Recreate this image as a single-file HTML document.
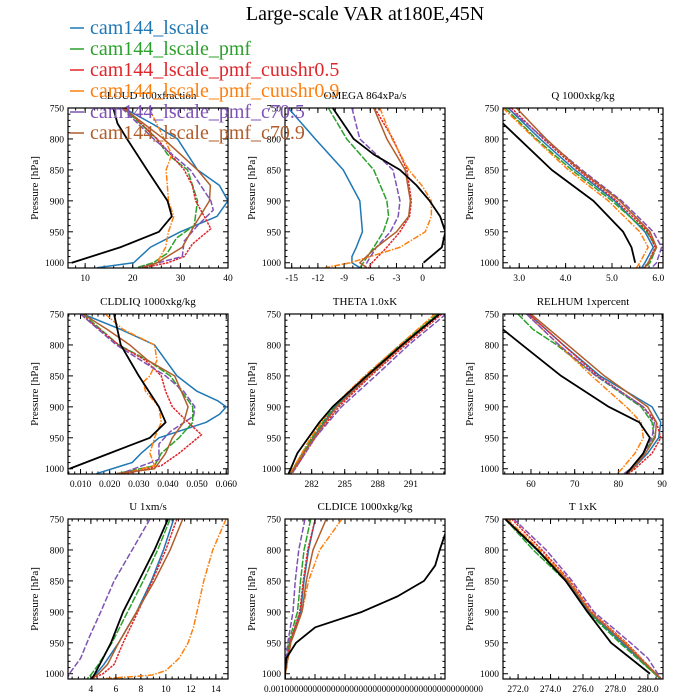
<!DOCTYPE html>
<html><head><meta charset="utf-8">
<style>
html,body{margin:0;padding:0;background:#fff;}
svg{display:block;font-family:"Liberation Serif",serif;}
</style></head>
<body>
<svg id="chart" width="700" height="700" viewBox="0 0 700 700" xmlns="http://www.w3.org/2000/svg"></svg>
<script>
// ---------- data: [pressure hPa, value] ----------
const seriesNames = ["cam144_lscale","cam144_lscale_pmf","cam144_lscale_pmf_cuushr0.5","cam144_lscale_pmf_cuushr0.9","cam144_lscale_pmf_c70.5","cam144_lscale_pmf_c70.9"];
// CLOUD
const cloudBlack=[[750,15.9],[775,16.8],[800,18.8],[850,23],[900,27.3],[925,28.2],[950,25.5],[975,17.4],[1000,7.2]];
const cloudBlue=[[750,18.1],[775,24],[800,29.4],[850,33.6],[875,38.2],[900,40],[925,37.7],[950,30],[975,23.7],[1000,20.2],[1008,12.5]];
const cloudGreen=[[750,18],[800,25.1],[825,27.3],[850,31.5],[900,33.6],[940,32.9],[960,29.2],[985,27.2],[1000,24.3],[1008,20.8]];
const cloudRed=[[750,18.4],[800,25.1],[850,30.8],[875,32.5],[900,33.2],[925,35],[945,36.4],[970,32.5],[990,30.8],[1000,27.4],[1008,22.2]];
const cloudOrange=[[750,23.4],[800,26.6],[825,28.2],[850,27],[900,27.5],[925,28.6],[950,27.5],[975,26.9],[1000,25.1],[1008,22]];
const cloudPurple=[[750,17.7],[800,24.4],[850,32.1],[900,36.4],[915,36.9],[940,33.6],[965,30.8],[990,30.4],[1008,21.4]];
const cloudBrown=[[750,18],[800,26.5],[850,33.6],[875,36.3],[900,36.1],[940,32.9],[975,30.4],[1000,25.1],[1008,22]];
// OMEGA
const omegaBlack=[[750,-10.3],[800,-7.9],[825,-5.6],[850,-2.6],[875,-0.7],[900,0.8],[925,2.0],[950,2.6],[975,2.2],[1000,0.1]];
const omegaBlue=[[750,-15.4],[800,-12.3],[850,-9.1],[900,-7.2],[950,-6.9],[975,-7.6],[990,-8.1],[1000,-8.1],[1008,-7.2]];
const omegaGreen=[[750,-10.8],[800,-8.7],[850,-5.6],[900,-4.1],[925,-3.9],[950,-4.5],[975,-5.6],[1000,-6.8],[1008,-7.2]];
const omegaRed=[[750,-5.5],[800,-3.4],[850,-1.8],[900,-1.3],[925,-1.5],[950,-2.6],[975,-4.1],[1000,-5.8],[1008,-6.2]];
const omegaOrange=[[750,-4.9],[800,-3.5],[850,-1.6],[875,-0.1],[900,1.0],[925,1.0],[950,0.3],[975,-2.6],[1000,-8.3],[1008,-11.2]];
const omegaPurple=[[750,-8.1],[800,-7.2],[850,-3.4],[900,-2.6],[925,-2.8],[950,-3.7],[975,-5.3],[1000,-6.4],[1008,-6.6]];
const omegaBrown=[[750,-5.6],[800,-4.1],[850,-2.0],[900,-1.4],[925,-1.6],[950,-3.0],[975,-5.3],[1000,-7.2],[1008,-6.4]];
// Q
const qBlack=[[775,2.65],[800,3.0],[850,3.7],[900,4.6],[950,5.24],[975,5.42],[1000,5.5]];
const qBlue=[[750,2.76],[800,3.45],[850,4.2],[900,5.06],[950,5.71],[975,5.89],[1000,5.71],[1008,5.64]];
const qGreen=[[750,2.7],[800,3.37],[850,4.13],[900,5.0],[950,5.75],[975,5.96],[1000,5.82],[1008,5.71]];
const qRed=[[750,2.83],[800,3.52],[850,4.27],[900,5.1],[950,5.78],[975,5.93],[1000,5.78],[1008,5.68]];
const qOrange=[[750,2.65],[800,3.34],[850,4.06],[900,4.92],[950,5.6],[975,5.78],[1000,5.6],[1008,5.53]];
const qPurple=[[750,2.76],[800,3.55],[850,4.35],[900,5.21],[950,5.89],[975,6.07],[1000,5.96],[1008,5.86]];
const qBrown=[[750,2.94],[800,3.58],[850,4.31],[900,5.17],[950,5.82],[975,5.96],[1000,5.78],[1008,5.71]];
// CLDLIQ
const liqBlack=[[750,0.0215],[800,0.0238],[850,0.030],[900,0.0369],[925,0.0392],[950,0.0338],[975,0.020],[1000,0.0062]];
const liqBlue=[[750,0.0108],[775,0.0238],[800,0.0354],[850,0.0431],[875,0.050],[890,0.057],[900,0.060],[912,0.0577],[925,0.0531],[950,0.0369],[975,0.0308],[990,0.0277],[1008,0.0154]];
const liqGreen=[[750,0.0108],[800,0.0231],[825,0.0331],[850,0.0408],[900,0.0485],[925,0.0485],[950,0.0438],[975,0.0377],[995,0.0354],[1008,0.0223]];
const liqRed=[[750,0.010],[800,0.0231],[825,0.0323],[850,0.0377],[875,0.0392],[900,0.0415],[925,0.0469],[945,0.0515],[975,0.0438],[995,0.0377],[1008,0.0254]];
const liqOrange=[[750,0.0185],[775,0.0246],[800,0.0354],[825,0.0362],[850,0.0338],[860,0.0315],[875,0.0323],[900,0.0369],[925,0.0377],[950,0.0354],[975,0.0338],[995,0.0354],[1008,0.0246]];
const liqPurple=[[750,0.010],[800,0.0223],[850,0.0392],[875,0.0454],[900,0.0492],[915,0.0488],[940,0.0408],[960,0.0369],[985,0.0369],[1008,0.0238]];
const liqBrown=[[750,0.0108],[775,0.0192],[800,0.0269],[825,0.0331],[850,0.0423],[900,0.0469],[925,0.0454],[950,0.0415],[975,0.0392],[1000,0.0354],[1008,0.0223]];
// THETA
const thBlack=[[750,293.6],[800,290.2],[850,287.0],[900,283.9],[925,282.7],[950,281.7],[975,280.7],[1000,280.1],[1008,279.9]];
const thBlue=[[750,293.53],[800,290.19],[850,287.04],[900,284.14],[950,282.12],[1000,280.39],[1008,280.1]];
const thGreen=[[750,293.4],[800,290.0],[850,286.9],[900,284.0],[950,282.0],[1000,280.3],[1008,280.0]];
const thRed=[[750,293.81],[800,290.51],[850,287.36],[900,284.46],[950,282.32],[1000,280.51],[1008,280.2]];
const thOrange=[[750,293.2],[800,290.0],[850,286.8],[900,283.9],[950,281.9],[1000,280.3],[1008,280.0]];
const thPurple=[[750,294.2],[800,290.8],[850,287.8],[900,284.7],[950,282.3],[1000,280.5],[1008,280.2]];
const thBrown=[[750,293.61],[800,290.31],[850,287.2],[900,284.26],[950,282.2],[1000,280.39],[1008,280.1]];
// RELHUM
const rhBlack=[[775,53.6],[800,58.0],[850,66.9],[900,77.8],[925,84.8],[950,87.2],[975,85.7],[1000,82.8],[1008,81.8]];
const rhBlue=[[750,59.5],[800,67.4],[850,75.8],[900,87.7],[925,89.7],[950,89.2],[975,86.7],[1000,83.3],[1008,81.8]];
const rhGreen=[[750,57.0],[775,60.5],[800,65.9],[850,74.9],[900,85.2],[925,87.7],[950,88.2],[975,85.7],[1000,82.8],[1008,81.3]];
const rhRed=[[750,59.5],[800,67.4],[850,75.3],[900,85.7],[925,88.7],[950,89.7],[975,87.7],[1000,83.8],[1008,82.3]];
const rhOrange=[[750,59.0],[800,66.4],[850,73.9],[900,81.8],[925,85.2],[950,85.7],[975,83.8],[1000,80.8],[1008,79.8]];
const rhPurple=[[750,59.0],[800,66.4],[850,74.9],[900,85.7],[925,88.2],[950,87.7],[975,85.7],[1000,82.8],[1008,81.3]];
const rhBrown=[[750,60],[800,68.4],[850,76.8],[900,86.7],[925,88.7],[950,88.4],[975,86.2],[1000,83.3],[1008,81.8]];
// U
const uBlack=[[750,10.17],[800,9.09],[850,7.84],[900,6.58],[950,5.61],[975,4.97],[1000,4.32],[1008,4.07]];
const uBlue=[[750,10.63],[800,9.81],[850,8.84],[900,7.66],[950,6.22],[985,5.04],[1000,4.43],[1008,4.07]];
const uGreen=[[750,10.34],[800,9.34],[850,8.19],[900,6.94],[950,5.68],[985,4.61],[1000,4.07],[1008,3.71]];
const uRed=[[750,10.88],[800,9.99],[850,8.91],[900,7.76],[950,6.58],[985,5.86],[1000,4.97],[1008,4.07]];
const uOrange=[[750,14.82],[800,13.75],[850,13.03],[900,12.49],[925,12.21],[950,11.78],[975,11.06],[995,9.99],[1002,8.91],[1005,7.12],[1008,4.97]];
const uPurple=[[750,8.73],[800,7.30],[850,5.86],[900,4.79],[940,3.89],[975,3.18],[985,2.82],[1000,2.28],[1008,2.1]];
const uBrown=[[750,11.35],[800,10.34],[850,9.09],[900,7.66],[950,6.22],[985,5.33],[1000,4.61],[1008,4.07]];
// CLDICE (relative units)
const iceBlack=[[775,1.0],[800,0.967],[825,0.939],[850,0.869],[875,0.703],[900,0.481],[925,0.189],[950,0.069],[975,0.008],[1000,0],[1008,0]];
const iceBlue=[[750,0.189],[800,0.147],[850,0.119],[900,0.097],[950,0.031],[1000,0],[1008,0]];
const iceGreen=[[750,0.161],[800,0.119],[850,0.097],[900,0.078],[950,0.022],[1000,0],[1008,0]];
const iceRed=[[750,0.189],[800,0.142],[850,0.114],[900,0.092],[950,0.031],[1000,0],[1008,0]];
const iceOrange=[[750,0.356],[800,0.217],[850,0.147],[900,0.106],[950,0.036],[1000,0.003],[1008,0]];
const icePurple=[[750,0.125],[800,0.086],[850,0.064],[900,0.05],[950,0.017],[1000,0],[1008,0]];
const iceBrown=[[750,0.258],[800,0.175],[850,0.133],[900,0.106],[950,0.036],[1000,0],[1008,0]];
// T
const tBlack=[[750,271.2],[800,273.2],[850,274.93],[900,276.27],[950,277.73],[975,278.93],[1000,280.13]];
const tBlue=[[750,271.2],[800,273.15],[850,274.99],[900,276.35],[950,278.4],[1008,280.75]];
const tGreen=[[750,271.2],[800,272.93],[850,274.93],[900,276.27],[950,278.27],[1008,280.75]];
const tRed=[[750,271.6],[800,273.47],[850,275.2],[900,276.53],[950,278.67],[1008,280.8]];
const tOrange=[[750,271.33],[800,273.33],[850,275.15],[900,276.48],[950,278.61],[1008,280.8]];
const tPurple=[[750,271.73],[800,273.73],[850,275.33],[900,276.67],[950,278.93],[975,280.0],[1008,280.8]];
const tBrown=[[750,271.25],[800,273.2],[850,275.07],[900,276.43],[950,278.53],[1008,280.8]];

const cloudTicks=[10,20,30,40];
const omegaTicks=[-15,-12,-9,-6,-3,0];
const qTicks=["3.0","4.0","5.0","6.0"];
const liqTicks=["0.010","0.020","0.030","0.040","0.050","0.060"];
const thTicks=[282,285,288,291];
const rhTicks=[60,70,80,90];
const uTicks=[4,6,8,10,12,14];
const tTicks=["272.0","274.0","276.0","278.0","280.0"];
const pTicks=[750,800,850,900,950,1000];

// ---------- rendering ----------
const NS="http://www.w3.org/2000/svg";
const svg=document.getElementById('chart');
const COLORS={blue:"#1f77b4",green:"#2ca02c",red:"#e0262b",orange:"#ff7f0e",purple:"#7f52b5",brown:"#b15d2b",black:"#000"};
const DASH={blue:"",green:"7,1.5",red:"2.5,1",orange:"6,1.5,1.5,1.5",purple:"6,2",brown:"",black:""};
function mk(tag,attrs,parent){const e=document.createElementNS(NS,tag);for(const k in attrs)e.setAttribute(k,attrs[k]);(parent||svg).appendChild(e);return e;}
const PW=160,PH=160,PMIN=750,PMAX=1008.5;
function panel(name,title,x0,y0,xmin,xmax,ticks,minorStep,series,tickLabelFn){
  const g=mk('g',{});
  
  
  const sx=v=>x0+(v-xmin)/(xmax-xmin)*PW;
  const sy=p=>y0+(p-PMIN)/(PMAX-PMIN)*PH;
  const t=mk('text',{x:x0+PW/2,y:y0-9,'font-size':11,'text-anchor':'middle'},g);t.textContent=title;
  
  
  const yl=mk('text',{x:0,y:0,'font-size':11,'text-anchor':'middle',transform:`translate(${x0-30},${y0+PH/2}) rotate(-90)`},g);yl.textContent="Pressure [hPa]";
  
  
  // y ticks
  for(let p=750;p<=1000;p+=10){const y=sy(p);const L=(p%50===0)?5:2.5;
    mk('line',{x1:x0,x2:x0+L,y1:y,y2:y,stroke:'#000','stroke-width':1},g);
    mk('line',{x1:x0+PW,x2:x0+PW-L,y1:y,y2:y,stroke:'#000','stroke-width':1},g);}
  pTicks.forEach(p=>{const l=mk('text',{x:x0-4,y:sy(p)+3.5,'font-size':9.5,'text-anchor':'end'},g);l.textContent=p;
    
    });
  // x ticks
  if(minorStep){
    const start=Math.ceil(xmin/minorStep)*minorStep;
    for(let v=start;v<=xmax+1e-9;v+=minorStep){const x=sx(v);
      mk('line',{x1:x,x2:x,y1:y0+PH,y2:y0+PH-2.5,stroke:'#000','stroke-width':1},g);
      mk('line',{x1:x,x2:x,y1:y0,y2:y0+2.5,stroke:'#000','stroke-width':1},g);}
  }
  ticks.forEach(tv=>{const v=parseFloat(tv);const x=sx(v);
    mk('line',{x1:x,x2:x,y1:y0+PH,y2:y0+PH-5,stroke:'#000','stroke-width':1},g);
    mk('line',{x1:x,x2:x,y1:y0,y2:y0+5,stroke:'#000','stroke-width':1},g);
    const l=mk('text',{x:x,y:y0+PH+13,'font-size':9.5,'text-anchor':'middle'},g);l.textContent=tv;
    
    });
  // clip
  const cid='clip-'+name;
  const cp=mk('clipPath',{id:cid},g);mk('rect',{x:x0,y:y0,width:PW,height:PH},cp);
  const lg=mk('g',{'clip-path':`url(#${cid})`},g);
  series.forEach(([col,arr])=>{
    const d=arr.map((pt,i)=>(i?'L':'M')+sx(pt[1]).toFixed(2)+','+sy(pt[0]).toFixed(2)).join(' ');
    const path=mk('path',{d:d,fill:'none',stroke:COLORS[col],'stroke-width':col==='black'?1.8:1.5,'stroke-dasharray':DASH[col],'stroke-linejoin':'round'},lg);
    
    
  });
  const fr=mk('rect',{x:x0,y:y0,width:PW,height:PH,fill:'none',stroke:'#000','stroke-width':1.2},g);
  
  
  return g;
}
const C1=68,C2=285,C3=503,R1=108,R2=314,R3=519;
panel('cloud','CLOUD  100xfraction',C1,R1,6.4,40,cloudTicks,2,[['blue',cloudBlue],['green',cloudGreen],['red',cloudRed],['orange',cloudOrange],['purple',cloudPurple],['brown',cloudBrown],['black',cloudBlack]]);
panel('omega','OMEGA  864xPa/s',C2,R1,-15.77,2.56,omegaTicks,1,[['blue',omegaBlue],['green',omegaGreen],['red',omegaRed],['orange',omegaOrange],['purple',omegaPurple],['brown',omegaBrown],['black',omegaBlack]]);
panel('q','Q  1000xkg/kg',C3,R1,2.65,6.1,qTicks,0.2,[['blue',qBlue],['green',qGreen],['red',qRed],['orange',qOrange],['purple',qPurple],['brown',qBrown],['black',qBlack]]);
panel('cldliq','CLDLIQ  1000xkg/kg',C1,R2,0.0057,0.0606,liqTicks,0.002,[['blue',liqBlue],['green',liqGreen],['red',liqRed],['orange',liqOrange],['purple',liqPurple],['brown',liqBrown],['black',liqBlack]]);
panel('theta','THETA  1.0xK',C2,R2,279.58,294.1,thTicks,1,[['blue',thBlue],['green',thGreen],['red',thRed],['orange',thOrange],['purple',thPurple],['brown',thBrown],['black',thBlack]]);
panel('relhum','RELHUM  1xpercent',C3,R2,53.6,90.2,rhTicks,2,[['blue',rhBlue],['green',rhGreen],['red',rhRed],['orange',rhOrange],['purple',rhPurple],['brown',rhBrown],['black',rhBlack]]);
panel('u','U  1xm/s',C1,R3,2.17,14.97,uTicks,0.5,[['blue',uBlue],['green',uGreen],['red',uRed],['orange',uOrange],['purple',uPurple],['brown',uBrown],['black',uBlack]]);
panel('cldice','CLDICE  1000xkg/kg',C2,R3,0,1,[],0.0375,[['blue',iceBlue],['green',iceGreen],['red',iceRed],['orange',iceOrange],['purple',icePurple],['brown',iceBrown],['black',iceBlack]]);
panel('t','T  1xK',C3,R3,271.07,280.93,tTicks,0.5,[['blue',tBlue],['green',tGreen],['red',tRed],['orange',tOrange],['purple',tPurple],['brown',tBrown],['black',tBlack]]);
// CLDICE major ticks + overlapped labels
[0.1875,0.375,0.5625,0.75,0.9375].forEach(f=>{const x=C2+f*PW;
  mk('line',{x1:x,x2:x,y1:R3+PH,y2:R3+PH-5,stroke:'#000','stroke-width':1});
  mk('line',{x1:x,x2:x,y1:R3,y2:R3+5,stroke:'#000','stroke-width':1});});
const il=mk('text',{x:264,y:R3+PH+13,'font-size':9.5,textLength:219,lengthAdjust:'spacingAndGlyphs'});
il.textContent="0.0010000000000000000000000000000000000000000000";


// title
const tt=mk('text',{x:365,y:20,'font-size':20,'text-anchor':'middle'});
tt.textContent="Large-scale VAR at180E,45N";


// legend
const legCols=['blue','green','red','orange','purple','brown'];
const legY=[34,55,76,97,118,139];
seriesNames.forEach((n,i)=>{
  const g=mk('g',{});
  
  
  mk('line',{x1:70,x2:84,y1:legY[i]-6,y2:legY[i]-6,stroke:COLORS[legCols[i]],'stroke-width':1.5},g);
  const t=mk('text',{x:90,y:legY[i],'font-size':20,fill:COLORS[legCols[i]]},g);
  t.textContent=n;
});
</script>
</body></html>
